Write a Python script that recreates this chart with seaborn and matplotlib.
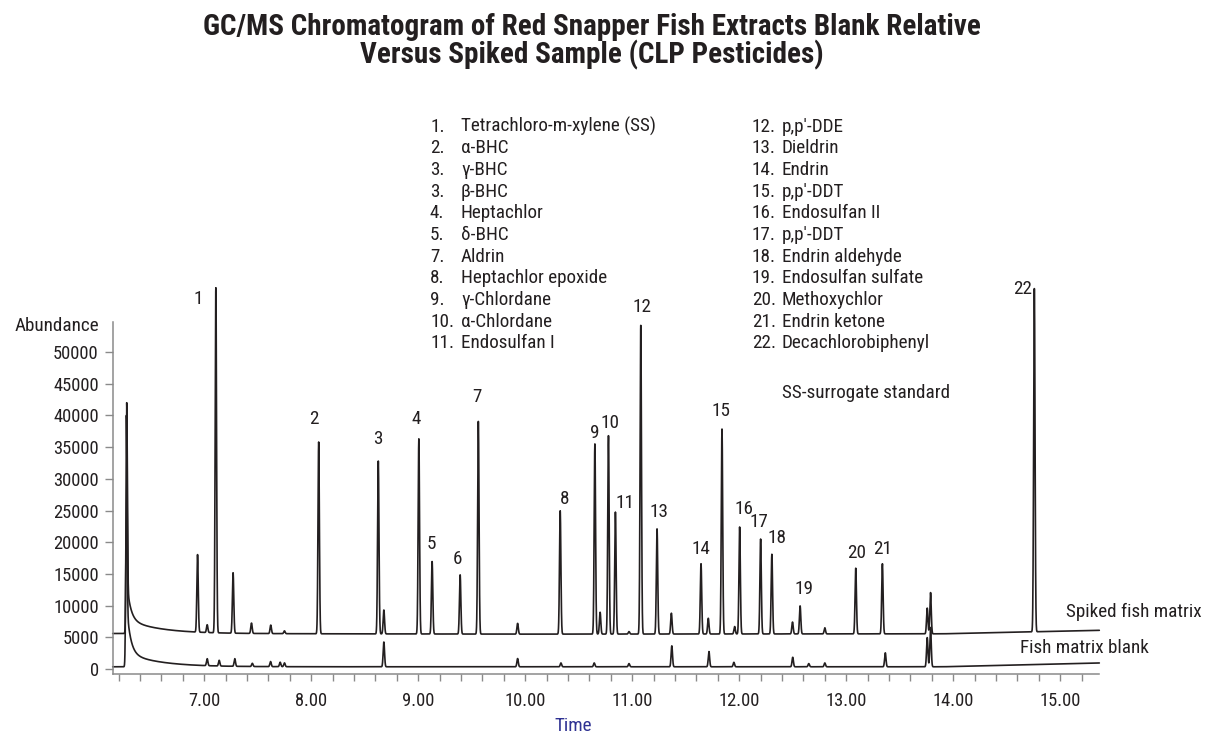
import numpy as np
import pandas as pd
import matplotlib
matplotlib.use("Agg")
import matplotlib.pyplot as plt
import seaborn as sns
from matplotlib import font_manager as fm
from matplotlib.ticker import MultipleLocator, FuncFormatter

# ---------------- data ----------------
peak_ids = ["1", "2", "3", "4", "5", "6", "7", "8", "9", "10", "11",
            "12", "13", "14", "15", "16", "17", "18", "19", "20", "21", "22"]
peak_times = [7.109, 8.070, 8.627, 9.006, 9.130, 9.392, 9.562, 10.327, 10.651,
              10.778, 10.843, 11.080, 11.232, 11.643, 11.839, 12.004, 12.200,
              12.305, 12.569, 13.089, 13.338, 14.758]
peak_tops = [60000, 35800, 32800, 36300, 16950, 14850, 39050, 24950, 35500,
             36800, 24750, 54200, 22100, 16600, 37850, 22400, 20500, 18100,
             9950, 15900, 16600, 60000]

# unlabelled peaks of the spiked trace (absolute tops)
spiked_minor_times = [6.938, 7.028, 7.270, 7.442, 7.622, 7.750, 8.679, 9.929,
                      10.700, 10.970, 11.366, 11.711, 11.957, 12.498, 12.800,
                      13.757, 13.788]
spiked_minor_tops = [17800, 6800, 15100, 7200, 6900, 6000, 9300, 7200,
                     8950, 5900, 8800, 8000, 6700, 7400, 6500, 9600, 12050]

# peaks of the matrix blank (height above its baseline)
blank_peak_times = [7.028, 7.140, 7.286, 7.450, 7.620, 7.710, 7.750, 8.679,
                    9.929, 10.334, 10.645, 10.970, 11.370, 11.717, 11.950,
                    12.500, 12.650, 12.800, 13.365, 13.757, 13.788]
blank_peak_heights = [1100, 900, 1200, 500, 800, 700, 600, 3900, 1300, 600,
                      600, 500, 3300, 2400, 700, 1500, 500, 600, 2200, 4600, 6200]

# solvent front (time, top) and its tail
solvent_spiked = (6.276, 42000)
solvent_blank = (6.273, 40000)
tail_spiked_amp = [6000, 2200]
tail_blank_amp = [8000, 2200]
tail_decay = [0.035, 0.30]

# baselines (time knots, abundance)
spiked_base_t = [6.145, 10.0, 13.9, 15.365]
spiked_base_v = [5600, 5500, 5550, 6100]
blank_base_t = [6.145, 13.9, 15.365]
blank_base_v = [350, 350, 950]

legend_left = [("1.", "Tetrachloro-m-xylene (SS)"), ("2.", "α-BHC"), ("3.", "γ-BHC"),
               ("3.", "β-BHC"), ("4.", "Heptachlor"), ("5.", "δ-BHC"), ("7.", "Aldrin"),
               ("8.", "Heptachlor epoxide"), ("9.", "γ-Chlordane"),
               ("10.", "α-Chlordane"), ("11.", "Endosulfan I")]
legend_right = [("12.", "p,p′-DDE"), ("13.", "Dieldrin"), ("14.", "Endrin"),
                ("15.", "p,p′-DDT"), ("16.", "Endosulfan II"), ("17.", "p,p′-DDT"),
                ("18.", "Endrin aldehyde"), ("19.", "Endosulfan sulfate"),
                ("20.", "Methoxychlor"), ("21.", "Endrin ketone"),
                ("22.", "Decachlorobiphenyl")]

title_lines = ["GC/MS Chromatogram of Red Snapper Fish Extracts Blank Relative",
               "Versus Spiked Sample (CLP Pesticides)"]

# ---------------- styling ----------------
sns.set_style("ticks")
names = {f.name for f in fm.fontManager.ttflist}
base = "DejaVu Sans"
for cand in ["Liberation Sans Narrow", "Roboto Condensed", "DejaVu Sans Condensed",
             "Roboto", "Liberation Sans"]:
    if cand in names:
        base = cand
        break
plt.rcParams["font.family"] = [base, "DejaVu Sans"]

INK = "#231f20"
AXC = "#8a8a8a"
W, H = 1205, 736
FS = 13.8

# ---------------- build traces ----------------
t = np.arange(6.145, 15.3655, 0.001)
SIG = 0.0065


def gauss(t0, amp, sig=SIG):
    return amp * np.exp(-0.5 * ((t - t0) / sig) ** 2)


def tail(t0, amps):
    dt = np.clip(t - t0, 0, None)
    out = sum(a * np.exp(-dt / d) for a, d in zip(amps, tail_decay))
    return np.where(t >= t0, out, 0.0)


sp_base = np.interp(t, spiked_base_t, spiked_base_v)
bl_base = np.interp(t, blank_base_t, blank_base_v)

spiked = sp_base.copy()
st0, stop = solvent_spiked
spiked += gauss(st0, stop - 5600 - sum(tail_spiked_amp), 0.006) + tail(st0, tail_spiked_amp)
for tt, top in zip(peak_times + spiked_minor_times, peak_tops + spiked_minor_tops):
    b = np.interp(tt, spiked_base_t, spiked_base_v)
    spiked += gauss(tt, top - b)

blank = bl_base.copy()
bt0, btop = solvent_blank
blank += gauss(bt0, btop - 350 - sum(tail_blank_amp), 0.006) + tail(bt0, tail_blank_amp)
for tt, hh in zip(blank_peak_times, blank_peak_heights):
    blank += gauss(tt, hh)

df = pd.DataFrame({
    "time": np.concatenate([t, t]),
    "abundance": np.concatenate([spiked, blank]),
    "trace": ["Spiked fish matrix"] * len(t) + ["Fish matrix blank"] * len(t),
})

# ---------------- figure ----------------
fig = plt.figure(figsize=(W / 100, H / 100), dpi=100)
ax_left, ax_right = 112.7, 1099.3
ax_top, ax_bot = 280, 674
ax = fig.add_axes([ax_left / W, 1 - ax_bot / H, (ax_right - ax_left) / W, (ax_bot - ax_top) / H])

sns.lineplot(data=df, x="time", y="abundance", hue="trace",
             palette=[INK, INK], legend=False, linewidth=1.2,
             estimator=None, sort=False, errorbar=None, ax=ax)
for ln in ax.lines:
    ln.set_clip_on(False)

px_per_k = 6.34  # pixels per 1000 abundance
y0 = -(674 - 669) / px_per_k * 1000
y1 = (669 - 280) / px_per_k * 1000
ax.set_xlim(6.145, 15.365)
ax.set_ylim(y0, y1)

for s in ["top", "right"]:
    ax.spines[s].set_visible(False)
for s in ["left", "bottom"]:
    ax.spines[s].set_color(AXC)
    ax.spines[s].set_linewidth(1.1)
ax.spines["left"].set_bounds(y0, (669 - 321.7) / px_per_k * 1000)

ax.set_yticks(np.arange(0, 50001, 5000))
ax.yaxis.set_major_formatter(FuncFormatter(lambda v, p: f"{int(v)}"))
ax.xaxis.set_major_locator(MultipleLocator(1.0))
ax.xaxis.set_minor_locator(MultipleLocator(0.2))
ax.xaxis.set_major_formatter(FuncFormatter(lambda v, p: f"{v:.2f}"))
ax.tick_params(axis="y", direction="out", length=6, width=1.0, color=AXC,
               labelsize=13.3, labelcolor=INK, pad=4)
ax.tick_params(axis="x", which="both", direction="out", length=5, width=1.0,
               color=AXC, labelsize=13.3, labelcolor=INK, pad=8)
ax.set_xlabel("")
ax.set_ylabel("")

# peak number labels (offsets in pixels: dx, dy above peak top)
label_offsets = [(-18, -10), (-5, 23), (0, 22), (-3, 20), (-1, 18), (-3, 16), (-1, 24),
                 (4, 12), (0, 11), (2, 13), (10, 9), (1, 18), (2, 17), (0, 15),
                 (-1, 18), (4, 18), (-2, 17), (5, 16), (4, 17), (1, 15), (0, 15), (-12, 0)]
for pid, tt, top, (dx, dy) in zip(peak_ids, peak_times, peak_tops, label_offsets):
    ax.annotate(pid, xy=(tt, top), xytext=(dx * 0.72, dy * 0.72),
                textcoords="offset points", ha="center", va="center",
                fontsize=FS, color=INK, annotation_clip=False)

# trace names
ax.text(15.05, (669 - 611.7) / px_per_k * 1000, "Spiked fish matrix", fontsize=FS,
        color=INK, ha="left", va="center", clip_on=False)
ax.text(14.625, (669 - 648.3) / px_per_k * 1000, "Fish matrix blank", fontsize=FS,
        color=INK, ha="left", va="center", clip_on=False)

# axis labels
fig.text(99 / W, 1 - 326 / H, "Abundance", ha="right", va="center", fontsize=FS, color=INK)
fig.text(572.7 / W, 1 - 726 / H, "Time", ha="center", va="center", fontsize=FS,
         color="#2e3192")

# title
for line, yy in zip(title_lines, [27, 55]):
    fig.text(592 / W, 1 - yy / H, line, ha="center", va="center", fontsize=21,
             fontweight="bold", color=INK)

# compound legend
row0, dy_row = 126.7, 21.65
for i, (num, name) in enumerate(legend_left):
    yy = 1 - (row0 + i * dy_row) / H
    fig.text(430 / W, yy, num, ha="left", va="center", fontsize=FS, color=INK)
    fig.text(461 / W, yy, name, ha="left", va="center", fontsize=FS, color=INK)
for i, (num, name) in enumerate(legend_right):
    yy = 1 - (row0 + i * dy_row) / H
    fig.text(751.7 / W, yy, num, ha="left", va="center", fontsize=FS, color=INK)
    fig.text(781.7 / W, yy, name, ha="left", va="center", fontsize=FS, color=INK)
fig.text(781.7 / W, 1 - 393 / H, "SS-surrogate standard", ha="left", va="center",
         fontsize=FS, color=INK)

fig.savefig("out.png", dpi=100)
